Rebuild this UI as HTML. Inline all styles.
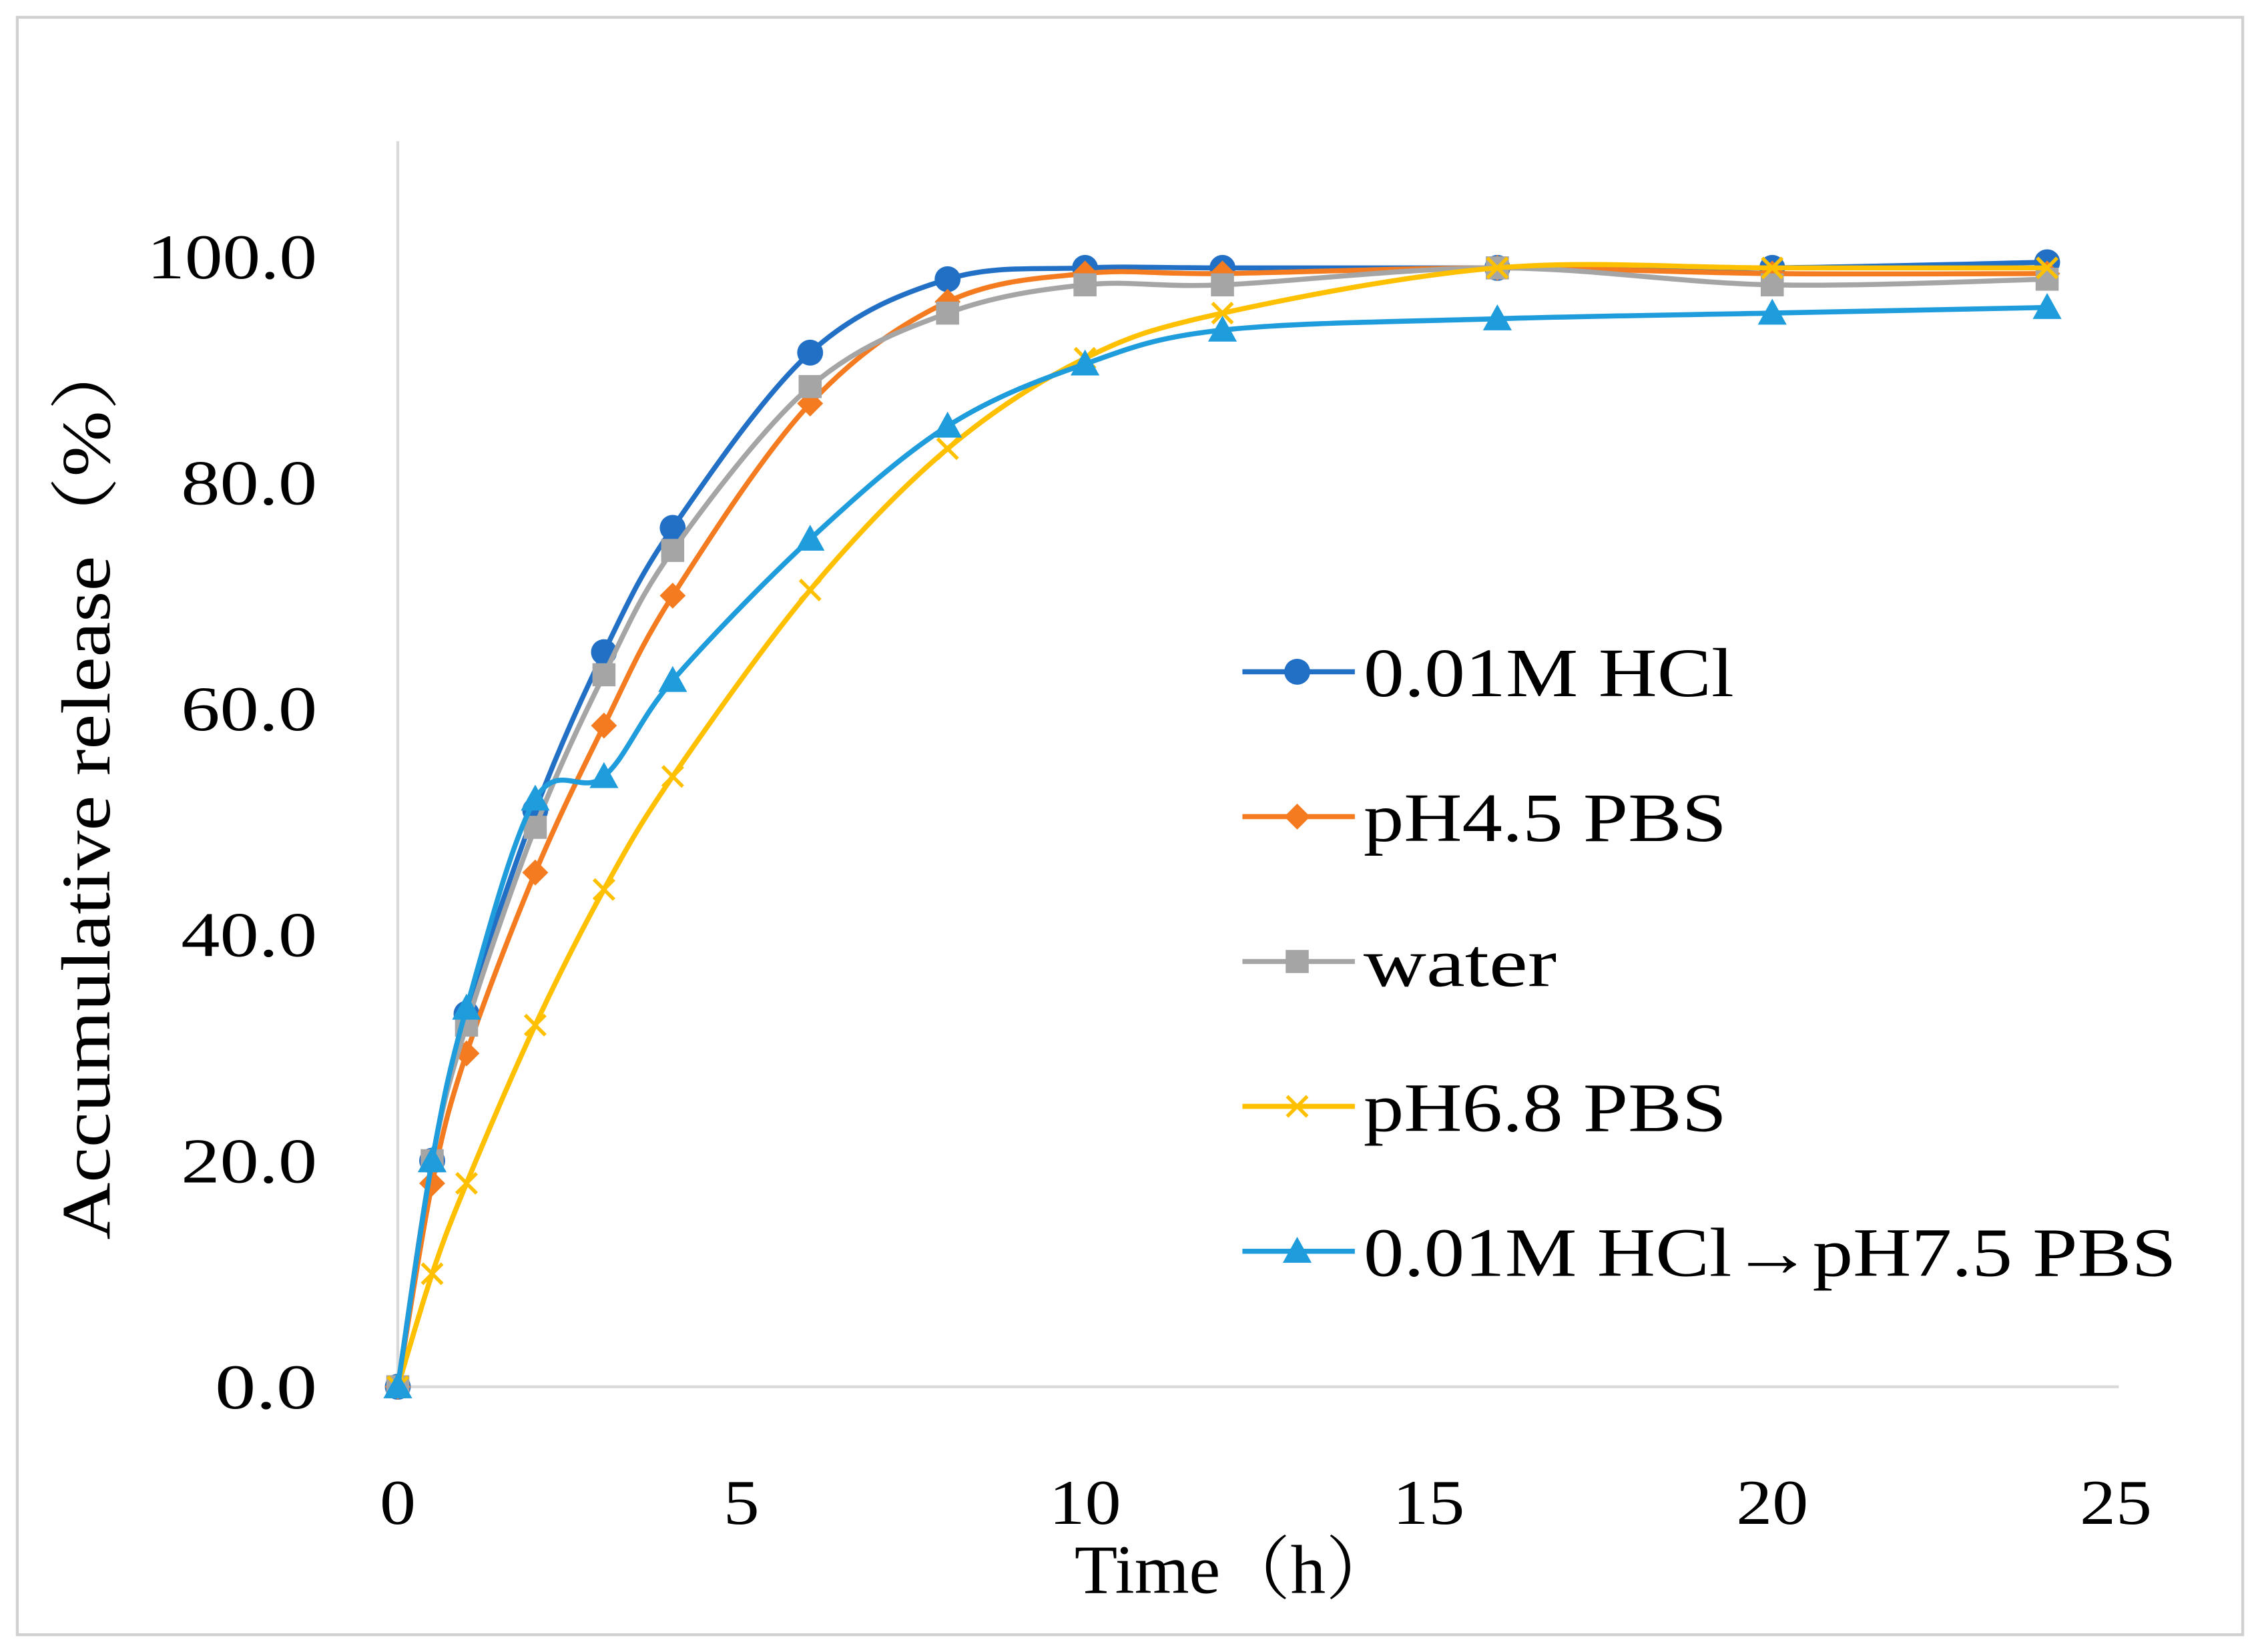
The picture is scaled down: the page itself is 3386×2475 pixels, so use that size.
<!DOCTYPE html>
<html><head><meta charset="utf-8"><style>
html,body{margin:0;padding:0;background:#fff;}
svg{display:block;font-family:"Liberation Serif","Noto Serif CJK SC",serif;}
</style></head><body>
<svg id="chart" width="3386" height="2475" viewBox="0 0 1568 1146" preserveAspectRatio="none" xmlns="http://www.w3.org/2000/svg">
<rect x="12" y="12" width="1544" height="1122" fill="#fff" stroke="#d0d0d0" stroke-width="2"/>
<g id="axes"></g>
<g id="series"></g>
<g id="legend"></g>
</svg>
<script>
const times=[0,0.5,1,2,3,4,6,8,10,12,16,20,24];
const seriesNames=["0.01M HCl","pH4.5 PBS","water","pH6.8 PBS","0.01M HCl→pH7.5 PBS"];
const hcl=[0,20,33,51,65,76,91.5,98,99,99,99,99,99.5];
const ph45=[0,18,29.5,45.5,58.5,70,87,96,98.5,98.5,99,98.5,98.5];
const water=[0,20,32,49.5,63,74,88.5,95,97.5,97.5,99,97.5,98];
const ph68=[0,10,18,32,44,54,70.5,83,91,95,99,99,99];
const hcl75=[0,20,33.5,52,54,62.5,75,85,90.5,93.5,94.5,95,95.5];
const xTicks=[0,5,10,15,20,25];
const yTicks=[0,20,40,60,80,100];
const yTickLabels=["0.0","20.0","40.0","60.0","80.0","100.0"];

const NS="http://www.w3.org/2000/svg";
const X=v=>276+v*(1468-276)/25;
const Y=v=>962-v*(962-178)/100;
function mk(tag,attrs,parent,text){const e=document.createElementNS(NS,tag);for(const k in attrs)e.setAttribute(k,attrs[k]);if(text!==undefined)e.textContent=text;parent.appendChild(e);return e;}
const axes=document.getElementById('axes'),sg=document.getElementById('series'),lg=document.getElementById('legend');

let yl=mk('line',{x1:276,y1:98,x2:276,y2:962,stroke:'#d9d9d9','stroke-width':2},axes);


let xl=mk('line',{x1:276,y1:962,x2:1470,y2:962,stroke:'#d9d9d9','stroke-width':2},axes);


xTicks.forEach(t=>{
  const s=String(t);
  const e=mk('text',{x:X(t),y:1057,'text-anchor':'middle','font-size':44,fill:'#000',textLength:s.length*25,lengthAdjust:'spacingAndGlyphs'},axes,s);
  
  
});
yTicks.forEach((t,i)=>{
  const s=yTickLabels[i];
  const e=mk('text',{x:220,y:Y(t)+15,'text-anchor':'end','font-size':44,fill:'#000',textLength:s.length*23.6,lengthAdjust:'spacingAndGlyphs'},axes,s);
  
  
});
let xt=mk('text',{x:857,y:1105,'text-anchor':'middle','font-size':48,fill:'#000',textLength:223,lengthAdjust:'spacingAndGlyphs'},axes,'Time（h）');


let yt=mk('text',{x:0,y:0,'text-anchor':'middle','font-size':48,fill:'#000',textLength:630,lengthAdjust:'spacingAndGlyphs',transform:'translate(76,545) rotate(-90)'},axes,'Accumulative release（%）');



function smoothPath(pts){
  let d=`M${pts[0][0]},${pts[0][1]}`;
  for(let i=0;i<pts.length-1;i++){
    const p0=pts[i-1]||pts[i],p1=pts[i],p2=pts[i+1],p3=pts[i+2]||p2;
    const c1=[p1[0]+(p2[0]-p0[0])/6,p1[1]+(p2[1]-p0[1])/6];
    const c2=[p2[0]-(p3[0]-p1[0])/6,p2[1]-(p3[1]-p1[1])/6];
    d+=` C${c1[0]},${c1[1]} ${c2[0]},${c2[1]} ${p2[0]},${p2[1]}`;
  }
  return d;
}
function marker(type,x,y,color,parent){
  let e;
  if(type==='circle')e=mk('circle',{cx:x,cy:y,r:9,fill:color},parent);
  else if(type==='diamond')e=mk('polygon',{points:`${x},${y-9} ${x+9},${y} ${x},${y+9} ${x-9},${y}`,fill:color},parent);
  else if(type==='square')e=mk('rect',{x:x-8,y:y-8,width:16,height:16,fill:color},parent);
  else if(type==='x')e=mk('path',{d:`M${x-7},${y-7}L${x+7},${y+7}M${x-7},${y+7}L${x+7},${y-7}`,stroke:color,'stroke-width':2.5,fill:'none'},parent);
  else e=mk('polygon',{points:`${x},${y-10} ${x+10},${y+8} ${x-10},${y+8}`,fill:color},parent);
  return e;
}
const allSeries=[hcl,ph45,water,ph68,hcl75];
const colors=['#2270C6','#F47B20','#A5A5A5','#FFC000','#1E9CDB'];
const mtypes=['circle','diamond','square','x','triangle'];
const keys=['hcl','ph45','water','ph68','hcl-ph75'];
allSeries.forEach((vals,s)=>{
  const g=mk('g',{},sg);
  
  
  const pts=times.map((t,i)=>[X(t),Y(vals[i])]);
  const p=mk('path',{d:smoothPath(pts),fill:'none',stroke:colors[s],'stroke-width':3.5},g);
  
  
  pts.forEach(pt=>{
    const m=marker(mtypes[s],pt[0],pt[1],colors[s],g);
    
    
  });
});
const legendWidths=[257,252,134,252,564];
seriesNames.forEach((n,s)=>{
  const y=466+s*100.5;
  const g=mk('g',{},lg);
  
  
  mk('line',{x1:862,y1:y,x2:940,y2:y,stroke:colors[s],'stroke-width':3.5},g);
  marker(mtypes[s],900,y,colors[s],g);
  mk('text',{x:946,y:y+17,'font-size':48,fill:'#000',textLength:legendWidths[s],lengthAdjust:'spacingAndGlyphs'},g,n);
});
</script>
</body></html>
